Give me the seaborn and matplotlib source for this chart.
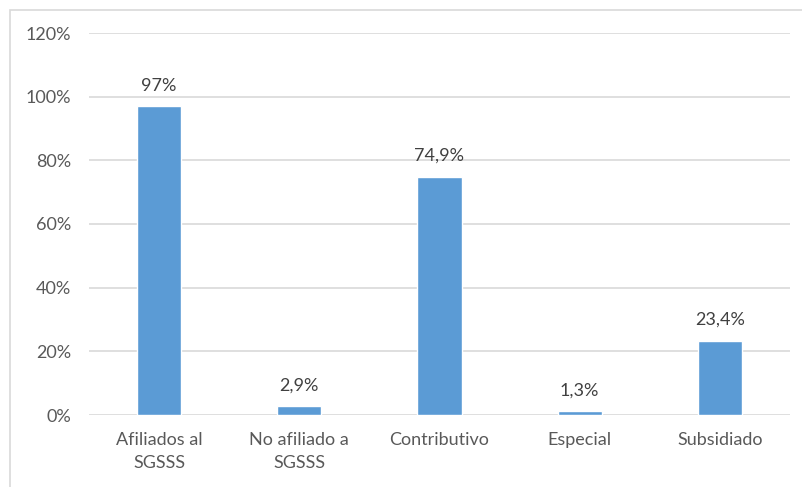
import matplotlib
matplotlib.use("Agg")
import matplotlib.pyplot as plt
from matplotlib.patches import Rectangle
from matplotlib.ticker import FuncFormatter, MultipleLocator
import seaborn as sns
import pandas as pd

categorias = ["Afiliados al\nSGSSS", "No afiliado a\nSGSSS", "Contributivo", "Especial", "Subsidiado"]
porcentajes = [97.0, 2.9, 74.9, 1.3, 23.4]
etiquetas = ["97%", "2,9%", "74,9%", "1,3%", "23,4%"]

df = pd.DataFrame({"categoria": categorias, "porcentaje": porcentajes})

sns.set_theme(style="white")
plt.rcParams["font.family"] = ["Lato", "DejaVu Sans"]

fig = plt.figure(figsize=(8.03, 4.87), dpi=100)
ax = fig.add_axes([89 / 803, 72 / 487, 701 / 803, 382 / 487])

# outer chart frame
fig.patches.append(Rectangle((10.5 / 803, -0.1), 2.0, (477.5 / 487) + 0.1,
                             transform=fig.transFigure, fill=False,
                             edgecolor="#D9D9D9", linewidth=1.2, zorder=0))

sns.barplot(data=df, x="categoria", y="porcentaje", color="#5B9BD5",
            width=0.314, saturation=1, ax=ax, zorder=3)

ax.set_ylim(0, 120)
ax.yaxis.set_major_locator(MultipleLocator(20))
ax.yaxis.set_major_formatter(FuncFormatter(lambda v, p: f"{int(v)}%"))
ax.grid(axis="y", color="#D9D9D9", linewidth=1.2, zorder=0)
ax.set_axisbelow(True)
for s in ax.spines.values():
    s.set_visible(False)
ax.set_xlabel("")
ax.set_ylabel("")
ax.tick_params(axis="y", length=0, pad=13, labelsize=13, labelcolor="#595959")
ax.tick_params(axis="x", length=0, pad=12, labelsize=13, labelcolor="#595959")
for t in ax.get_xticklabels():
    t.set_linespacing(1.55)

for i, (v, txt) in enumerate(zip(porcentajes, etiquetas)):
    ax.annotate(txt, (i, v), xytext=(0, 9), textcoords="offset points",
                ha="center", va="bottom", fontsize=13, color="#404040")

fig.savefig("out.png", dpi=100)
